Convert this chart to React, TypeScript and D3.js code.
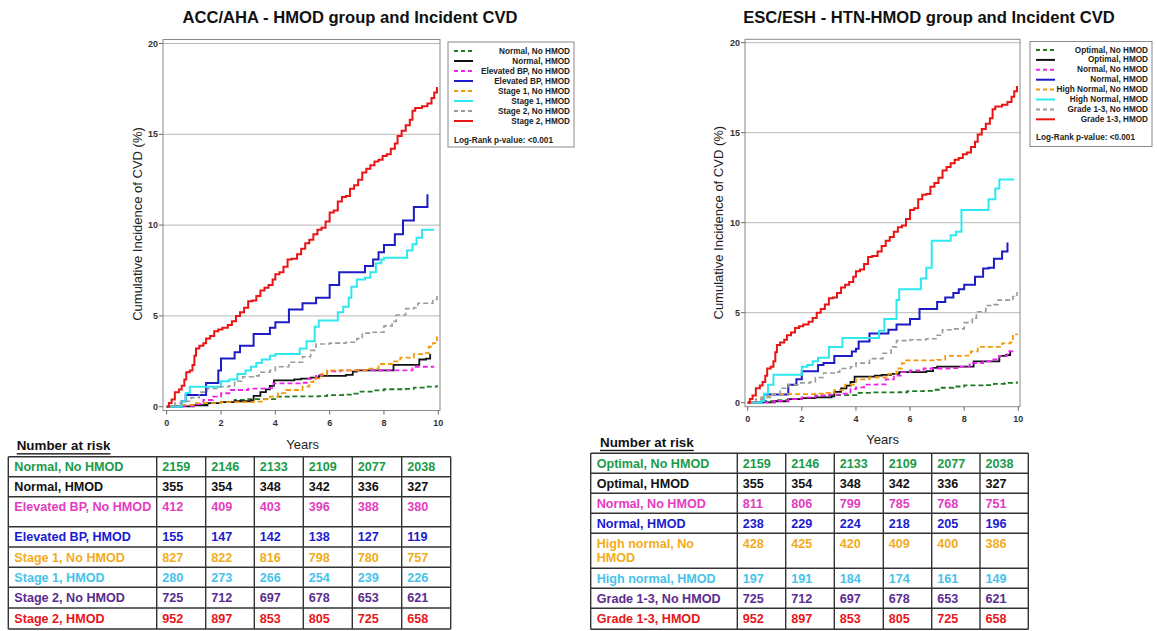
import React from "react";
import * as d3 from "d3";

// ---------------- DATA ----------------
const yTicks = [0, 5, 10, 15, 20];
const xTicks = [0, 2, 4, 6, 8, 10];

// Curves shared by both panels (identical groups)
const stage2HMOD: [number, number][] = [
  [0, 0], [0.08, 0.2], [0.18, 0.4], [0.3, 0.8], [0.45, 0.95], [0.55, 1.15], [0.65, 1.5], [0.72, 1.9],
  [0.85, 2.0], [0.95, 2.3], [1.02, 2.8], [1.08, 3.2], [1.2, 3.35], [1.35, 3.5], [1.45, 3.75], [1.6, 3.9],
  [1.75, 4.15], [1.9, 4.25], [2.05, 4.35], [2.25, 4.5], [2.4, 4.7], [2.55, 5.0], [2.7, 5.2], [2.85, 5.45],
  [3.0, 5.8], [3.15, 5.85], [3.3, 6.1], [3.45, 6.4], [3.6, 6.55], [3.75, 6.7], [3.9, 7.0], [4.0, 7.3],
  [4.15, 7.4], [4.3, 7.7], [4.45, 8.1], [4.6, 8.15], [4.8, 8.4], [4.95, 8.7], [5.1, 9.0], [5.25, 9.2],
  [5.4, 9.5], [5.55, 9.75], [5.7, 9.85], [5.85, 10.2], [6.0, 10.7], [6.15, 10.8], [6.3, 11.3], [6.45, 11.55],
  [6.6, 11.6], [6.75, 12.0], [6.9, 12.2], [7.05, 12.5], [7.2, 12.9], [7.35, 13.1], [7.5, 13.3], [7.65, 13.5],
  [7.8, 13.6], [7.95, 13.8], [8.1, 13.9], [8.25, 14.2], [8.4, 14.5], [8.5, 14.9], [8.65, 15.2], [8.8, 15.5],
  [8.95, 15.8], [9.05, 16.3], [9.15, 16.45], [9.4, 16.55], [9.6, 16.7], [9.75, 17.0], [9.85, 17.3], [9.95, 17.6],
];
const stage2NoHMOD: [number, number][] = [
  [0, 0], [0.3, 0.2], [0.55, 0.3], [0.9, 0.5], [1.2, 0.8], [1.5, 1.0], [1.9, 1.1], [2.3, 1.15], [2.5, 1.4],
  [2.8, 1.65], [3.2, 1.7], [3.4, 1.9], [3.8, 2.0], [4.0, 2.2], [4.5, 2.45], [5.0, 2.75], [5.3, 3.1],
  [5.5, 3.45], [6.0, 3.5], [6.6, 3.55], [7.0, 3.75], [7.2, 4.05], [7.6, 4.1], [8.0, 4.45], [8.3, 4.7],
  [8.45, 5.05], [8.8, 5.4], [9.1, 5.45], [9.25, 5.7], [9.8, 5.9], [9.95, 6.15],
];
const normalHMOD: [number, number][] = [
  [0, 0], [0.5, 0.02], [1.0, 0.08], [1.5, 0.2], [2.0, 0.25], [2.5, 0.3], [3.1, 0.35], [3.2, 0.6],
  [3.45, 0.8], [3.65, 0.95], [3.8, 1.15], [3.95, 1.45], [4.7, 1.5], [4.95, 1.55], [5.3, 1.6], [5.6, 1.7],
  [6.6, 1.75], [6.85, 1.93], [7.0, 2.0], [8.3, 2.0], [8.35, 2.3], [9.2, 2.3], [9.3, 2.6], [9.55, 2.65],
  [9.7, 2.9],
];
const normalNoHMOD: [number, number][] = [
  [0, 0], [0.5, 0.08], [1.0, 0.14], [1.5, 0.2], [2.0, 0.25], [2.5, 0.38], [3.0, 0.42], [3.5, 0.42],
  [4.05, 0.55], [4.6, 0.57], [5.6, 0.58], [5.9, 0.64], [6.5, 0.66], [6.9, 0.72], [7.1, 0.83], [7.6, 0.9],
  [8.0, 0.96], [8.8, 0.98], [9.1, 1.05], [9.5, 1.1], [9.95, 1.18],
];

// Left panel only
const elevBPNoHMOD: [number, number][] = [
  [0, 0], [0.5, 0.05], [1.0, 0.15], [1.35, 0.37], [1.7, 0.55], [2.0, 0.74], [2.35, 0.92], [3.0, 1.0],
  [3.7, 1.02], [3.93, 1.28], [4.9, 1.32], [5.2, 1.55], [5.5, 1.75], [5.9, 1.95], [6.4, 2.0], [8.85, 2.0],
  [9.05, 2.2], [9.85, 2.2],
];
const elevBPHMOD: [number, number][] = [
  [0, 0], [0.55, 0.3], [0.7, 0.65], [1.35, 0.65], [1.45, 1.3], [1.9, 2.0], [2.0, 2.65], [2.3, 2.65],
  [2.5, 3.0], [2.7, 3.35], [3.15, 3.35], [3.2, 4.0], [3.6, 4.0], [3.8, 4.35], [4.0, 4.65], [4.45, 4.65],
  [4.5, 5.35], [5.0, 5.7], [5.5, 6.0], [6.0, 6.7], [6.35, 7.4], [7.0, 7.4], [7.3, 7.75], [7.6, 8.1],
  [7.8, 8.5], [8.0, 8.9], [8.4, 9.5], [8.65, 9.5], [8.7, 10.25], [8.95, 10.25], [9.1, 11.0], [9.6, 11.7],
];
const stage1NoHMOD: [number, number][] = [
  [0, 0], [0.5, 0.1], [1.0, 0.2], [2.0, 0.25], [3.2, 0.28], [3.5, 0.4], [3.8, 0.55], [4.1, 0.75],
  [4.4, 0.92], [5.0, 1.1], [5.25, 1.35], [5.4, 1.56], [5.7, 1.8], [5.9, 2.0], [7.4, 2.1], [7.8, 2.35],
  [8.3, 2.5], [8.6, 2.7], [8.95, 2.7], [9.1, 2.9], [9.45, 2.95], [9.65, 3.3], [9.8, 3.5], [9.95, 3.86],
];
const stage1HMOD: [number, number][] = [
  [0, 0], [0.55, 0.3], [0.7, 0.75], [0.85, 1.1], [1.97, 1.1], [2.0, 1.4], [2.3, 1.5], [2.6, 1.8],
  [2.9, 2.0], [3.1, 2.2], [3.3, 2.4], [3.5, 2.6], [3.8, 2.8], [4.0, 2.9], [4.7, 2.9], [4.9, 3.2],
  [5.15, 3.6], [5.4, 3.6], [5.45, 4.4], [5.6, 4.75], [6.1, 4.75], [6.3, 5.2], [6.5, 5.5], [6.7, 6.0],
  [6.8, 6.6], [7.0, 7.0], [7.3, 7.1], [7.5, 7.4], [7.7, 7.9], [7.9, 8.1], [8.0, 8.2], [8.65, 8.2],
  [8.85, 8.6], [9.05, 8.95], [9.2, 9.3], [9.4, 9.75], [9.85, 9.75],
];

// Right panel only
const normalNoHMOD_esc: [number, number][] = [
  [0, 0], [0.5, 0.02], [1.0, 0.1], [1.5, 0.2], [2.0, 0.3], [2.5, 0.4], [3.0, 0.45], [3.5, 0.5],
  [3.8, 0.75], [4.0, 0.85], [4.3, 1.0], [4.8, 1.02], [5.1, 1.3], [5.4, 1.5], [5.7, 1.7], [6.0, 1.8],
  [6.5, 1.9], [7.5, 1.92], [7.8, 2.0], [8.2, 2.2], [8.7, 2.3], [9.0, 2.4], [9.3, 2.6], [9.6, 2.85],
  [9.85, 2.95],
];
const normalHMOD_esc: [number, number][] = [
  [0, 0], [0.5, 0.05], [0.6, 0.45], [1.3, 0.45], [1.5, 1.0], [1.8, 1.3], [2.0, 1.75], [2.4, 1.75],
  [2.6, 2.1], [2.8, 2.2], [3.2, 2.6], [3.6, 2.6], [3.85, 2.85], [4.0, 3.0], [4.1, 3.4], [4.45, 3.4],
  [4.5, 3.85], [5.0, 3.85], [5.2, 4.05], [5.5, 4.35], [6.0, 4.65], [6.35, 5.2], [6.8, 5.2], [7.0, 5.6],
  [7.3, 5.85], [7.6, 6.1], [7.8, 6.3], [8.0, 6.55], [8.4, 7.0], [8.6, 7.0], [8.7, 7.45], [8.9, 7.5],
  [9.1, 8.0], [9.4, 8.4], [9.6, 8.9],
];
const highNormNoHMOD: [number, number][] = [
  [0, 0], [0.5, 0.3], [0.8, 0.48], [2.5, 0.5], [2.8, 0.55], [3.2, 0.7], [3.6, 1.0], [4.0, 1.3],
  [4.5, 1.4], [5.2, 1.6], [5.5, 1.9], [5.7, 2.2], [5.85, 2.35], [7.0, 2.38], [7.3, 2.6], [8.0, 2.62],
  [8.25, 2.85], [8.5, 3.1], [9.2, 3.1], [9.4, 3.3], [9.7, 3.35], [9.8, 3.8], [9.95, 3.85],
];
const highNormHMOD: [number, number][] = [
  [0, 0], [0.5, 0.1], [0.6, 0.5], [0.75, 1.0], [0.95, 1.55], [1.8, 1.55], [2.0, 2.0], [2.2, 2.1],
  [2.4, 2.3], [2.6, 2.5], [3.0, 3.1], [3.2, 3.1], [3.5, 3.6], [4.7, 3.6], [4.85, 4.0], [5.05, 4.65],
  [5.4, 4.65], [5.5, 5.7], [5.6, 6.3], [6.2, 6.3], [6.4, 6.9], [6.6, 7.5], [6.8, 9.0], [7.2, 9.0],
  [7.5, 9.3], [7.7, 9.5], [7.9, 10.7], [8.6, 10.7], [8.9, 11.3], [9.15, 11.9], [9.3, 12.4], [9.85, 12.4],
];

// Legend labels
const leftLegendLabels = [
  "Normal, No HMOD", "Normal, HMOD", "Elevated BP, No HMOD", "Elevated BP, HMOD",
  "Stage 1, No HMOD", "Stage 1, HMOD", "Stage 2, No HMOD", "Stage 2, HMOD",
];
const rightLegendLabels = [
  "Optimal, No HMOD", "Optimal, HMOD", "Normal, No HMOD", "Normal, HMOD",
  "High Normal, No HMOD", "High Normal, HMOD", "Grade 1-3, No HMOD", "Grade 1-3, HMOD",
];

// Number-at-risk tables
const leftRiskLabels = [
  ["Normal, No HMOD"], ["Normal, HMOD"], ["Elevated BP, No HMOD"], ["Elevated BP, HMOD"],
  ["Stage 1, No HMOD"], ["Stage 1, HMOD"], ["Stage 2, No HMOD"], ["Stage 2, HMOD"],
];
const leftRisk = [
  [2159, 2146, 2133, 2109, 2077, 2038],
  [355, 354, 348, 342, 336, 327],
  [412, 409, 403, 396, 388, 380],
  [155, 147, 142, 138, 127, 119],
  [827, 822, 816, 798, 780, 757],
  [280, 273, 266, 254, 239, 226],
  [725, 712, 697, 678, 653, 621],
  [952, 897, 853, 805, 725, 658],
];
const rightRiskLabels = [
  ["Optimal, No HMOD"], ["Optimal, HMOD"], ["Normal, No HMOD"], ["Normal, HMOD"],
  ["High normal, No", "HMOD"], ["High normal, HMOD"], ["Grade 1-3, No HMOD"], ["Grade 1-3, HMOD"],
];
const rightRisk = [
  [2159, 2146, 2133, 2109, 2077, 2038],
  [355, 354, 348, 342, 336, 327],
  [811, 806, 799, 785, 768, 751],
  [238, 229, 224, 218, 205, 196],
  [428, 425, 420, 409, 400, 386],
  [197, 191, 184, 174, 161, 149],
  [725, 712, 697, 678, 653, 621],
  [952, 897, 853, 805, 725, 658],
];

// ---------------- STYLES ----------------
const FONT = "Arial, 'Liberation Sans', Helvetica, sans-serif";
const lineStyles = [
  { color: "#1f7a24", dash: "5,3", w: 1.8 },
  { color: "#111111", dash: "", w: 1.8 },
  { color: "#ee22ee", dash: "5,3", w: 1.8 },
  { color: "#1c1cc4", dash: "", w: 2 },
  { color: "#f29a0c", dash: "5,3", w: 1.8 },
  { color: "#2ee8f0", dash: "", w: 2 },
  { color: "#9a9a9a", dash: "5,3", w: 1.6 },
  { color: "#ea1414", dash: "", w: 2 },
];
const tableColors = ["#1b9a48", "#111111", "#e43cbf", "#1a1ad0", "#f2ac1b", "#47c3ea", "#5b2c8f", "#e8161b"];

type Series = [number, number][];

interface PanelProps {
  title: string;
  titleX: number;
  frame: { l: number; r: number; t: number; b: number };
  x0: number; x1: number; y0: number; y20: number;
  series: Series[];
  legend: { l: number; r: number; t: number; b: number; row0: number; step: number; logY: number };
  legendLabels: string[];
  yLabel: { x: number; y: number };
  xLabel: { x: number; y: number };
}

function Panel(p: PanelProps) {
  const x = d3.scaleLinear().domain([0, 10]).range([p.x0, p.x1]);
  const y = d3.scaleLinear().domain([0, 20]).range([p.y0, p.y20]);
  const line = d3.line<[number, number]>().x((d) => x(d[0])).y((d) => y(d[1])).curve(d3.curveStepAfter);
  const f = p.frame;
  const L = p.legend;
  return (
    <g>
      <text x={p.titleX} y={17} textAnchor="middle" dominantBaseline="central" fontFamily={FONT} fontWeight="bold" fontSize={16.6} fill="#111">
        {p.title}
      </text>
      {yTicks.filter((t) => t > 0).map((t) => (
        <line key={"g" + t} x1={f.l} x2={f.r} y1={y(t)} y2={y(t)} stroke="#b8b8b8" strokeWidth={1} />
      ))}
      <rect x={f.l} y={f.t} width={f.r - f.l} height={f.b - f.t} fill="none" stroke="#8a8a8a" strokeWidth={1} />
      {yTicks.map((t) => (
        <g key={"y" + t}>
          <line x1={f.l - 4} x2={f.l} y1={y(t)} y2={y(t)} stroke="#666" />
          <text x={f.l - 5} y={y(t)} textAnchor="end" dominantBaseline="central" fontFamily={FONT} fontWeight="bold" fontSize={9} fill="#333">
            {t}
          </text>
        </g>
      ))}
      {xTicks.map((t) => (
        <g key={"x" + t}>
          <line x1={x(t)} x2={x(t)} y1={f.b} y2={f.b + 4} stroke="#666" />
          <text x={x(t)} y={f.b + 12.5} textAnchor="middle" dominantBaseline="central" fontFamily={FONT} fontWeight="bold" fontSize={9} fill="#333">
            {t}
          </text>
        </g>
      ))}
      <text transform={`translate(${p.yLabel.x},${p.yLabel.y}) rotate(-90)`} textAnchor="middle" dominantBaseline="central" fontFamily={FONT} fontSize={13} fill="#222">
        Cumulative Incidence of CVD (%)
      </text>
      <text x={p.xLabel.x} y={p.xLabel.y} textAnchor="middle" dominantBaseline="central" fontFamily={FONT} fontSize={13} fill="#222">
        Years
      </text>
      {p.series.map((s, i) => (
        <path key={"s" + i} d={line(s) || ""} fill="none" stroke={lineStyles[i].color} strokeWidth={lineStyles[i].w} strokeDasharray={lineStyles[i].dash || undefined} />
      ))}
      <rect x={L.l} y={L.t} width={L.r - L.l} height={L.b - L.t} fill="#fff" stroke="#8a8a8a" strokeWidth={1} />
      {p.legendLabels.map((lab, i) => {
        const yy = L.row0 + i * L.step;
        return (
          <g key={"l" + i}>
            <line x1={L.l + 6} x2={L.l + 25} y1={yy} y2={yy} stroke={lineStyles[i].color} strokeWidth={2} strokeDasharray={lineStyles[i].dash ? "4,3" : undefined} />
            <text x={L.r - 4} y={yy} textAnchor="end" dominantBaseline="central" fontFamily={FONT} fontWeight="bold" fontSize={8.2} fill="#222">
              {lab}
            </text>
          </g>
        );
      })}
      <text x={L.l + 6} y={L.logY} dominantBaseline="central" fontFamily={FONT} fontWeight="bold" fontSize={8.2} fill="#222">
        Log-Rank p-value: &lt;0.001
      </text>
    </g>
  );
}

interface TableProps {
  cols: number[];
  rows: number[];
  labels: string[][];
  values: number[][];
  headX: number;
  headY: number;
}

function RiskTable(t: TableProps) {
  const left = t.cols[0];
  const right = t.cols[t.cols.length - 1];
  const top = t.rows[0];
  const bottom = t.rows[t.rows.length - 1];
  return (
    <g fontFamily={FONT} fontWeight="bold" fontSize={12.6}>
      <text x={t.headX} y={t.headY} dominantBaseline="central" fontSize={13.4} fill="#111" textDecoration="underline">
        Number at risk
      </text>
      {t.labels.map((lab, i) => (
        <g key={"r" + i} fill={tableColors[i]}>
          {lab.map((ln, j) => (
            <text key={j} x={left + 6} y={t.rows[i] + 10.5 + j * 14.5} dominantBaseline="central">
              {ln}
            </text>
          ))}
          {t.values[i].map((v, k) => (
            <text key={"v" + k} x={t.cols[k + 1] + 5.5} y={t.rows[i] + 10.5} dominantBaseline="central">
              {v}
            </text>
          ))}
        </g>
      ))}
      {t.rows.map((ry, i) => (
        <line key={"h" + i} x1={left} x2={right} y1={ry} y2={ry} stroke="#333" strokeWidth={1.4} />
      ))}
      {t.cols.map((cx, i) => (
        <line key={"c" + i} x1={cx} x2={cx} y1={top} y2={bottom} stroke="#333" strokeWidth={1.4} />
      ))}
    </g>
  );
}

export default function App() {
  const leftSeries = [normalNoHMOD, normalHMOD, elevBPNoHMOD, elevBPHMOD, stage1NoHMOD, stage1HMOD, stage2NoHMOD, stage2HMOD];
  const rightSeries = [normalNoHMOD, normalHMOD, normalNoHMOD_esc, normalHMOD_esc, highNormNoHMOD, highNormHMOD, stage2NoHMOD, stage2HMOD];
  return (
    <svg width={1157} height={631} style={{ position: "absolute", left: 0, top: 0, background: "#fff" }}>
      <rect x={0} y={0} width={1157} height={631} fill="#fff" />
      <Panel
        title="ACC/AHA - HMOD group and Incident CVD"
        titleX={350}
        frame={{ l: 163, r: 440, t: 39.5, b: 410.5 }}
        x0={166.7} x1={438.3} y0={406.7} y20={43.5}
        series={leftSeries}
        legend={{ l: 448, r: 574, t: 42, b: 147, row0: 51, step: 10, logY: 140.5 }}
        legendLabels={leftLegendLabels}
        yLabel={{ x: 137, y: 224 }}
        xLabel={{ x: 302.7, y: 444 }}
      />
      <Panel
        title="ESC/ESH - HTN-HMOD group and Incident CVD"
        titleX={929}
        frame={{ l: 745, r: 1020, t: 39.3, b: 406.7 }}
        x0={747.7} x1={1018.3} y0={402.7} y20={42.7}
        series={rightSeries}
        legend={{ l: 1030, r: 1152, t: 41.5, b: 146.5, row0: 50, step: 9.9, logY: 137.3 }}
        legendLabels={rightLegendLabels}
        yLabel={{ x: 718, y: 222.7 }}
        xLabel={{ x: 882.7, y: 439.3 }}
      />
      <RiskTable
        cols={[8.3, 156.7, 205.7, 254.3, 303.3, 352.3, 401.7, 450.7]}
        rows={[456.7, 476.7, 496.7, 526.7, 547, 567.3, 587.3, 608, 629]}
        labels={leftRiskLabels}
        values={leftRisk}
        headX={16.7}
        headY={445.7}
      />
      <RiskTable
        cols={[590.7, 737.3, 785.7, 834.3, 883.3, 931.7, 980, 1028.3]}
        rows={[453.3, 473.3, 493.3, 513.3, 533.3, 568.3, 588.3, 608.3, 629.3]}
        labels={rightRiskLabels}
        values={rightRisk}
        headX={600}
        headY={442.3}
      />
    </svg>
  );
}
